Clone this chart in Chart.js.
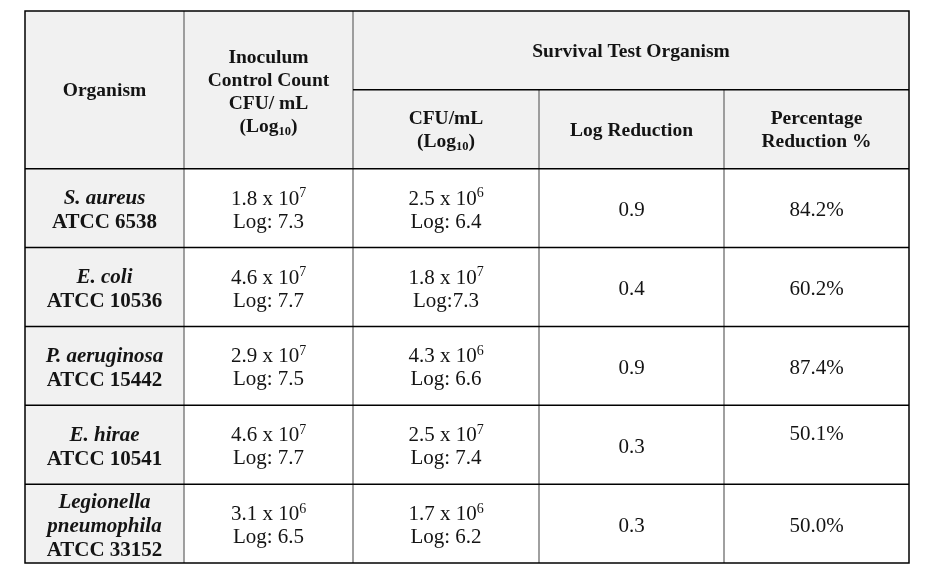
<!DOCTYPE html>
<html>
<head>
<meta charset="utf-8">
<script src="https://cdn.jsdelivr.net/npm/chart.js@4.4.1/dist/chart.umd.min.js"></script>
<style>
  html, body { margin: 0; padding: 0; background: #ffffff; }
  #wrap { width: 939px; height: 582px; position: relative; }
</style>
</head>
<body>
<div id="wrap"><canvas id="c"></canvas></div>
<script>
// ---- Data ----
const rowLabels = ['Header', 'Subheader', 'S. aureus', 'E. coli', 'P. aeruginosa', 'E. hirae', 'Legionella pneumophila'];
const organismNameLines = [['S. aureus'], ['E. coli'], ['P. aeruginosa'], ['E. hirae'], ['Legionella', 'pneumophila']];
const strains = ['ATCC 6538', 'ATCC 10536', 'ATCC 15442', 'ATCC 10541', 'ATCC 33152'];
const inoculumMantissa = ['1.8', '4.6', '2.9', '4.6', '3.1'];
const inoculumExponent = ['7', '7', '7', '7', '6'];
const inoculumLog = ['7.3', '7.7', '7.5', '7.7', '6.5'];
const survivalMantissa = ['2.5', '1.8', '4.3', '2.5', '1.7'];
const survivalExponent = ['6', '7', '6', '7', '6'];
const survivalLogText = ['Log: 6.4', 'Log:7.3', 'Log: 6.6', 'Log: 7.4', 'Log: 6.2'];
const inoculumLogText = inoculumLog.map(v => 'Log: ' + v);
const logReduction = ['0.9', '0.4', '0.9', '0.3', '0.3'];
const percentageReduction = ['84.2%', '60.2%', '87.4%', '50.1%', '50.0%'];
const headerTop = ['Organism', 'Inoculum', 'Survival Test Organism'];

const SERIF = '"Liberation Serif", "Times New Roman", serif';

function drawRich(ctx, parts, cx, baseline) {
  let total = 0;
  parts.forEach(p => { ctx.font = p.font; p.w = ctx.measureText(p.t).width; total += p.w; });
  let x = cx - total / 2;
  ctx.textAlign = 'left';
  ctx.textBaseline = 'alphabetic';
  parts.forEach(p => { ctx.font = p.font; ctx.fillText(p.t, x, baseline + (p.dy || 0)); x += p.w; });
}

const tablePlugin = {
  id: 'tableDraw',
  afterDraw(chart, args, opts) {
    const ctx = chart.ctx;
    const xs = chart.scales.x, ys = chart.scales.y;
    const edges = opts.columnEdges.map(v => xs.getPixelForValue(v));
    const step = Math.abs(ys.getPixelForValue(1) - ys.getPixelForValue(0));
    const rowTop = i => ys.getPixelForValue(i) - step / 2;
    const rowBot = i => ys.getPixelForValue(i) + step / 2;
    const rowMid = i => ys.getPixelForValue(i);
    const L = edges[0], R = edges[edges.length - 1];
    const T = rowTop(0), B = rowBot(rowLabels.length - 1);

    ctx.save();
    // backgrounds
    ctx.fillStyle = opts.headerFill;
    ctx.fillRect(L, T, R - L, rowBot(1) - T);
    ctx.fillRect(L, rowBot(1), edges[1] - L, B - rowBot(1));

    const bodyFont = '21px ' + SERIF;
    const supFont = '14px ' + SERIF;
    const bold = 'bold 21px ' + SERIF;
    const boldItalic = 'italic bold 21px ' + SERIF;
    const hFont = 'bold 19.5px ' + SERIF;
    const hSub = 'bold 12.5px ' + SERIF;
    ctx.fillStyle = opts.textColor;
    const bl = 8, hbl = 6.5, lh = 23, hlh = 23;
    const cxOf = c => (edges[c] + edges[c + 1]) / 2;

    // header text
    const hMid = (rowTop(0) + rowBot(1)) / 2;
    drawRich(ctx, [{ t: headerTop[0], font: hFont }], cxOf(0), hMid + hbl);
    const inoc = [[{ t: 'Inoculum', font: hFont }], [{ t: 'Control Count', font: hFont }], [{ t: 'CFU/ mL', font: hFont }],
      [{ t: '(Log', font: hFont }, { t: '10', font: hSub, dy: 3 }, { t: ')', font: hFont }]];
    inoc.forEach((parts, k) => drawRich(ctx, parts, cxOf(1), hMid + 1.5 + (k - 1.5) * hlh + hbl));
    drawRich(ctx, [{ t: headerTop[2], font: hFont }], (edges[2] + edges[5]) / 2, rowMid(0) + hbl);
    const sub = [
      [[{ t: 'CFU/mL', font: hFont }], [{ t: '(Log', font: hFont }, { t: '10', font: hSub, dy: 3 }, { t: ')', font: hFont }]],
      [[{ t: 'Log Reduction', font: hFont }]],
      [[{ t: 'Percentage', font: hFont }], [{ t: 'Reduction %', font: hFont }]]
    ];
    sub.forEach((lines, c) => {
      lines.forEach((parts, k) => drawRich(ctx, parts, cxOf(c + 2), rowMid(1) + (k - (lines.length - 1) / 2) * hlh + hbl));
    });

    // body
    for (let r = 0; r < strains.length; r++) {
      const ri = r + 2, m = rowMid(ri);
      const orgLines = organismNameLines[r].map(t => [{ t, font: boldItalic }]).concat([[{ t: strains[r], font: bold }]]);
      orgLines.forEach((parts, k) => drawRich(ctx, parts, cxOf(0), m + (k - (orgLines.length - 1) / 2) * 24 + bl));
      const cellTwo = (mant, exp, logTxt, c) => {
        drawRich(ctx, [{ t: mant + ' x 10', font: bodyFont }, { t: exp, font: supFont, dy: -7.5 }], cxOf(c), m - lh / 2 + bl);
        drawRich(ctx, [{ t: logTxt, font: bodyFont }], cxOf(c), m + lh / 2 + bl);
      };
      cellTwo(inoculumMantissa[r], inoculumExponent[r], inoculumLogText[r], 1);
      cellTwo(survivalMantissa[r], survivalExponent[r], survivalLogText[r], 2);
      drawRich(ctx, [{ t: logReduction[r], font: bodyFont }], cxOf(3), m + bl);
      const shift = (opts.pctShift && opts.pctShift[r]) || 0;
      drawRich(ctx, [{ t: percentageReduction[r], font: bodyFont }], cxOf(4), m + bl + shift);
    }

    // grid lines
    const hline = (y, x1, x2, color) => { ctx.strokeStyle = color; ctx.beginPath(); ctx.moveTo(x1, y); ctx.lineTo(x2, y); ctx.stroke(); };
    const vline = (x, y1, y2, color) => { ctx.strokeStyle = color; ctx.beginPath(); ctx.moveTo(x, y1); ctx.lineTo(x, y2); ctx.stroke(); };
    ctx.lineWidth = 1.5;
    vline(edges[1], T, B, opts.innerLine);
    vline(edges[2], T, B, opts.innerLine);
    vline(edges[3], rowBot(0), B, opts.innerLine);
    vline(edges[4], rowBot(0), B, opts.innerLine);
    hline(rowBot(0), edges[2], R, opts.outerLine);
    for (let i = 1; i < rowLabels.length - 1; i++) hline(rowBot(i), L, R, opts.outerLine);
    ctx.strokeStyle = opts.outerLine;
    ctx.strokeRect(L, T, R - L, B - T);
    ctx.restore();
  }
};

new Chart(document.getElementById('c'), {
  type: 'scatter',
  data: { labels: rowLabels, datasets: [] },
  options: {
    responsive: true,
    maintainAspectRatio: false,
    animation: false,
    layout: { padding: { left: 25, right: 30, top: 11, bottom: 19 } },
    scales: {
      x: { type: 'linear', min: 0, max: 884, display: false },
      y: { type: 'category', labels: rowLabels, offset: true, display: false }
    },
    plugins: {
      legend: { display: false },
      tooltip: { enabled: false },
      tableDraw: {
        columnEdges: [0, 159, 328, 514, 699, 884],
        headerFill: '#f1f1f1',
        textColor: '#141414',
        innerLine: '#808080',
        outerLine: '#000000',
        pctShift: { 3: -12.5 }
      }
    }
  },
  plugins: [tablePlugin]
});
</script>
</body>
</html>
